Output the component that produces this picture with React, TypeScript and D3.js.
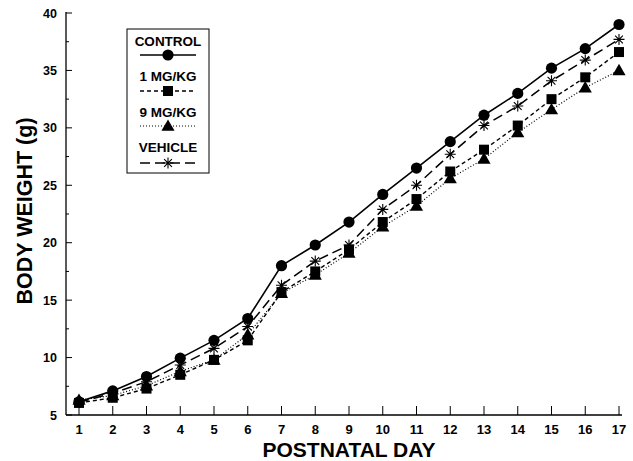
import React from "react";
import * as d3 from "d3";

const days = [1, 2, 3, 4, 5, 6, 7, 8, 9, 10, 11, 12, 13, 14, 15, 16, 17];
const control = [6.15, 7.1, 8.35, 9.95, 11.5, 13.4, 18.0, 19.8, 21.8, 24.2, 26.5, 28.8, 31.1, 33.0, 35.2, 36.9, 39.0];
const mg1 = [6.05, 6.5, 7.3, 8.5, 9.8, 11.5, 15.7, 17.5, 19.4, 21.8, 23.8, 26.2, 28.1, 30.2, 32.5, 34.4, 36.6];
const mg9 = [6.3, 6.7, 7.55, 8.8, 9.8, 12.0, 15.6, 17.2, 19.1, 21.4, 23.2, 25.6, 27.3, 29.6, 31.6, 33.5, 35.0];
const vehicle = [6.1, 6.9, 7.9, 9.35, 10.8, 12.7, 16.3, 18.4, 19.8, 22.9, 25.0, 27.7, 30.2, 31.9, 34.1, 35.9, 37.7];
const yTicks = [5, 10, 15, 20, 25, 30, 35, 40];
const yMinorTicks = [7.5, 12.5, 17.5, 22.5, 27.5, 32.5, 37.5];
const seriesNames = ["CONTROL", "1 MG/KG", "9 MG/KG", "VEHICLE"];

const FONT = "'Liberation Sans', Arial, Helvetica, sans-serif";

type Kind = "circle" | "square" | "triangle" | "asterisk";

function Marker({ x, y, kind }: { x: number; y: number; kind: Kind }) {
  if (kind === "circle") return <circle cx={x} cy={y} r={5.6} fill="#000" />;
  if (kind === "square") return <rect x={x - 5} y={y - 5} width={10} height={10} fill="#000" />;
  if (kind === "triangle") {
    const p = d3.symbol().type(d3.symbolTriangle).size(75)();
    return <path d={p || ""} transform={`translate(${x},${y + 1})`} fill="#000" />;
  }
  const r = 5.5;
  const lines = [0, 45, 90, 135].map((a) => {
    const rad = (a * Math.PI) / 180;
    return `M${x - r * Math.cos(rad)},${y - r * Math.sin(rad)}L${x + r * Math.cos(rad)},${y + r * Math.sin(rad)}`;
  });
  return <path d={lines.join("")} stroke="#000" strokeWidth={1.1} fill="none" />;
}

export default function App() {
  const W = 633;
  const H = 461;
  const x = d3.scaleLinear().domain([1, 17]).range([79, 619]);
  const y = d3.scaleLinear().domain([5, 40]).range([415, 13]);

  const series: { name: string; data: number[]; kind: Kind; dash: string; width: number }[] = [
    { name: seriesNames[0], data: control, kind: "circle", dash: "", width: 1.6 },
    { name: seriesNames[1], data: mg1, kind: "square", dash: "4,3", width: 1.4 },
    { name: seriesNames[2], data: mg9, kind: "triangle", dash: "1,2", width: 1.2 },
    { name: seriesNames[3], data: vehicle, kind: "asterisk", dash: "10,5", width: 1.5 },
  ];

  const line = d3
    .line<number>()
    .x((_, i) => x(days[i]))
    .y((d) => y(d));

  const legendEntries = [
    { textY: 46, lineY: 55 },
    { textY: 81, lineY: 91 },
    { textY: 117, lineY: 126 },
    { textY: 152, lineY: 163 },
  ];

  return (
    <svg width={W} height={H} style={{ position: "absolute", left: 0, top: 0, background: "#fff" }} fontFamily={FONT}>
      <rect x={0} y={0} width={W} height={H} fill="#fff" />
      {/* axes */}
      <line x1={66} x2={66} y1={y(40) - 1} y2={y(5)} stroke="#000" strokeWidth={1.3} />
      <line x1={66} x2={622} y1={y(5)} y2={y(5)} stroke="#000" strokeWidth={1.3} />
      {yTicks.map((t) => (
        <g key={"yt" + t}>
          <line x1={66} x2={72} y1={y(t)} y2={y(t)} stroke="#000" strokeWidth={1} />
          <text x={57} y={y(t)} dy="0.36em" textAnchor="end" fontSize={12.5} fontWeight="bold">
            {t}
          </text>
        </g>
      ))}
      {yMinorTicks.map((t) => (
        <line key={"ym" + t} x1={66} x2={69} y1={y(t)} y2={y(t)} stroke="#000" strokeWidth={1} />
      ))}
      {days.map((d) => (
        <g key={"xt" + d}>
          <line x1={x(d)} x2={x(d)} y1={y(5)} y2={y(5) - 9} stroke="#000" strokeWidth={1} />
          <text x={x(d)} y={433.5} textAnchor="middle" fontSize={13} fontWeight="bold">
            {d}
          </text>
        </g>
      ))}
      <text x={349} y={457} textAnchor="middle" fontSize={21} fontWeight="bold">
        POSTNATAL DAY
      </text>
      <text
        transform={`translate(32,211) rotate(-90)`}
        textAnchor="middle"
        fontSize={21.5}
        fontWeight="bold"
      >
        BODY WEIGHT (g)
      </text>

      {/* series lines */}
      {series.map((s) => (
        <path
          key={"l" + s.name}
          d={line(s.data) || ""}
          fill="none"
          stroke="#000"
          strokeWidth={s.width}
          strokeDasharray={s.dash || undefined}
        />
      ))}
      {series.map((s) =>
        s.data.map((v, i) => <Marker key={s.name + i} x={x(days[i])} y={y(v)} kind={s.kind} />)
      )}

      {/* legend */}
      <rect x={127} y={29} width={82} height={144} fill="#fff" stroke="#000" strokeWidth={1} />
      {series.map((s, i) => (
        <g key={"lg" + s.name}>
          <text x={168} y={legendEntries[i].textY} textAnchor="middle" fontSize={13.5} fontWeight="bold">
            {s.name}
          </text>
          <line
            x1={140}
            x2={196}
            y1={legendEntries[i].lineY}
            y2={legendEntries[i].lineY}
            stroke="#000"
            strokeWidth={s.width}
            strokeDasharray={s.dash || undefined}
          />
          <Marker x={168} y={legendEntries[i].lineY} kind={s.kind} />
        </g>
      ))}
    </svg>
  );
}
